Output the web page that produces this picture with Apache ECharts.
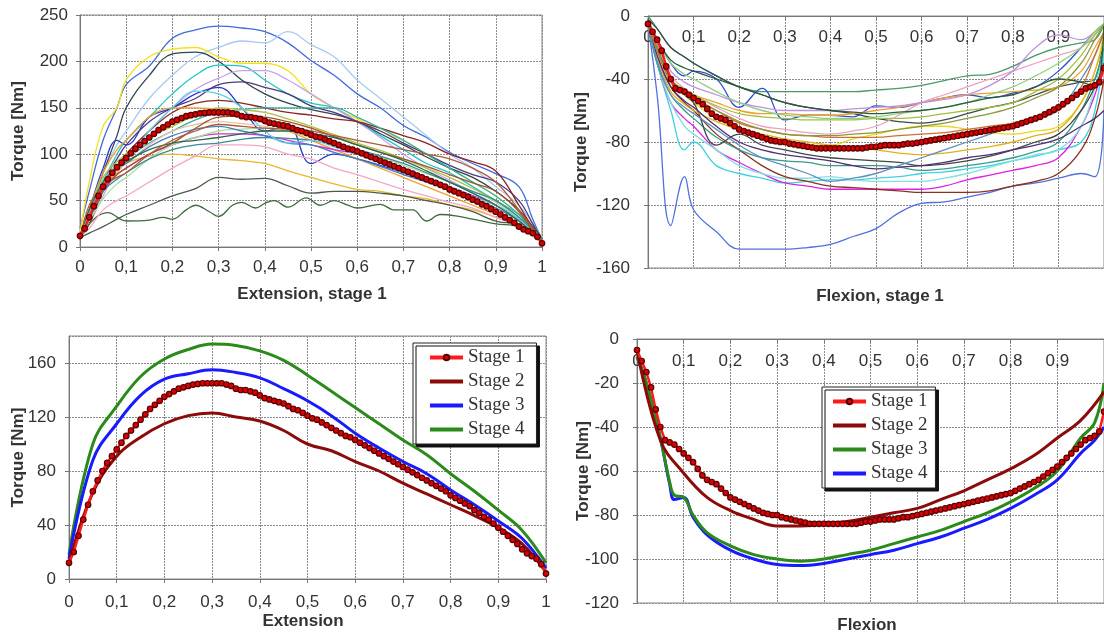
<!DOCTYPE html>
<html>
<head>
<meta charset="utf-8">
<script src="https://cdn.jsdelivr.net/npm/echarts@6.0.0/dist/echarts.min.js"></script>
<style>html,body{margin:0;padding:0;background:#fff}#chart{width:1104px;height:637px}</style>
</head>
<body>
<div id="chart"></div>
<script>
// shared x positions for the individual runs
const xsRun = [0, 0.02, 0.05, 0.08, 0.1, 0.15, 0.2, 0.25, 0.3, 0.35, 0.4, 0.45, 0.5, 0.55, 0.6, 0.65, 0.7, 0.75, 0.8, 0.85, 0.9, 0.95, 0.98, 1];
const xsWave = [0, 0.03, 0.06, 0.1, 0.15, 0.18, 0.2, 0.23, 0.25, 0.28, 0.3, 0.33, 0.35, 0.38, 0.4, 0.42, 0.45, 0.49, 0.52, 0.55, 0.58, 0.6, 0.65, 0.68, 0.72, 0.75, 0.78, 0.82, 0.85, 0.9, 0.95, 1];
const xsStage = [0, 0.05, 0.1, 0.15, 0.2, 0.25, 0.3, 0.35, 0.4, 0.45, 0.5, 0.55, 0.6, 0.65, 0.7, 0.75, 0.8, 0.85, 0.9, 0.95, 1];
const xsFlex = [0, 0.02, 0.05, 0.07, 0.08, 0.1, 0.12, 0.15, 0.2, 0.25, 0.3, 0.35, 0.4, 0.45, 0.5, 0.55, 0.6, 0.65, 0.7, 0.75, 0.8, 0.85, 0.9, 0.95, 0.98, 1];

// extension, stage 1 - individual runs
const ext01 = [20, 60, 115, 150, 175, 195, 225, 234, 238, 236, 232, 220, 201, 185, 165, 150, 131, 118, 102, 90, 79, 65, 30, 8];
const ext02 = [15, 40, 80, 110, 125, 160, 185, 205, 215, 222, 220, 232, 218, 205, 180, 160, 140, 120, 100, 85, 65, 45, 25, 10];
const ext03 = [15, 70, 130, 150, 180, 205, 213, 215, 205, 198, 198, 190, 165, 150, 138, 125, 115, 100, 85, 70, 55, 35, 20, 8];
const ext04 = [12, 40, 80, 120, 150, 185, 208, 210, 200, 180, 165, 155, 148, 143, 135, 122, 110, 97, 85, 75, 60, 40, 22, 8];
const ext05 = [10, 30, 70, 100, 115, 140, 165, 185, 196, 195, 180, 165, 155, 150, 135, 120, 105, 90, 80, 65, 50, 35, 20, 5];
const ext06 = [10, 25, 55, 85, 100, 125, 150, 170, 182, 190, 190, 180, 165, 150, 135, 118, 100, 85, 72, 58, 45, 30, 18, 5];
const ext07 = [10, 40, 85, 115, 110, 140, 150, 165, 172, 150, 125, 130, 90, 100, 95, 88, 80, 72, 65, 55, 45, 30, 18, 5];
const ext08 = [10, 35, 70, 95, 110, 135, 150, 160, 175, 178, 172, 165, 152, 145, 135, 125, 112, 100, 88, 78, 70, 50, 25, 8];
const ext09 = [8, 25, 60, 85, 100, 125, 145, 155, 158, 155, 150, 145, 142, 138, 135, 128, 120, 112, 100, 92, 82, 45, 20, 5];
const ext10 = [12, 40, 80, 105, 115, 140, 150, 150, 148, 140, 135, 125, 115, 105, 95, 85, 75, 65, 55, 45, 35, 25, 15, 5];
const ext11 = [10, 30, 60, 80, 90, 98, 100, 98, 95, 93, 90, 82, 75, 68, 62, 60, 55, 52, 45, 40, 32, 22, 12, 5];
const ext12 = [10, 15, 22, 30, 35, 45, 55, 63, 75, 73, 74, 66, 58, 60, 60, 58, 55, 50, 45, 38, 28, 25, 22, 8];
const ext13 = [10, 30, 37, 28, 29, 32, 30, 40, 45, 38, 33, 45, 48, 42, 47, 50, 43, 53, 45, 50, 45, 42, 46, 40, 40, 28, 35, 33, 30, 25, 22, 5];
const ext14 = [10, 20, 40, 50, 55, 70, 85, 98, 110, 110, 108, 100, 95, 85, 78, 70, 62, 55, 48, 42, 32, 22, 12, 5];
const ext15 = [10, 30, 60, 78, 85, 100, 110, 118, 122, 122, 120, 115, 110, 105, 100, 92, 85, 75, 65, 55, 45, 30, 15, 5];
const ext16 = [10, 28, 52, 68, 75, 95, 110, 118, 125, 127, 128, 125, 120, 112, 105, 97, 88, 79, 70, 60, 48, 30, 15, 5];
const ext17 = [10, 35, 70, 88, 95, 112, 125, 137, 145, 148, 150, 150, 150, 150, 140, 128, 115, 100, 85, 70, 55, 35, 18, 8];
const ext18 = [10, 35, 65, 82, 90, 110, 125, 132, 135, 133, 130, 125, 118, 110, 100, 91, 82, 74, 65, 54, 42, 28, 15, 5];
const ext19 = [10, 40, 75, 92, 100, 118, 130, 142, 150, 148, 145, 138, 130, 121, 112, 104, 95, 85, 75, 63, 50, 32, 18, 6];
const ext20 = [10, 30, 60, 73, 80, 95, 105, 110, 112, 116, 118, 117, 115, 110, 105, 98, 90, 80, 70, 60, 50, 32, 18, 6];
const ext21 = [10, 38, 70, 85, 90, 108, 120, 127, 130, 125, 120, 112, 110, 102, 95, 87, 78, 70, 62, 52, 42, 28, 15, 5];
const ext22 = [10, 32, 62, 78, 85, 100, 112, 128, 140, 141, 140, 135, 128, 119, 110, 102, 95, 87, 78, 69, 60, 38, 18, 6];
const ext23 = [10, 38, 72, 88, 95, 125, 150, 168, 165, 150, 125, 112, 115, 108, 100, 90, 80, 71, 62, 54, 45, 30, 16, 5];
const ext24 = [12, 40, 70, 85, 92, 105, 112, 115, 118, 122, 125, 125, 122, 118, 110, 102, 93, 82, 70, 58, 45, 28, 15, 5];
const ext25 = [8, 45, 65, 75, 80, 100, 115, 125, 132, 130, 128, 127, 125, 120, 115, 110, 105, 100, 95, 85, 70, 40, 20, 5];

// flexion, stage 1 - individual runs
const flx01 = [-5, -50, -133, -102, -123, -137, -148, -148, -148, -147, -145, -140, -135, -125, -119, -118, -115, -112, -108, -106, -103, -100, -102, -60];
const flx02 = [0, -8, -20, -26, -30, -38, -45, -48, -48, -48, -48, -48, -47, -46, -44, -41, -38, -37, -32, -25, -20, -17, -15, -5];
const flx03 = [-2, -8, -20, -26, -30, -38, -45, -50, -55, -58, -60, -62, -65, -67, -68, -66, -62, -58, -55, -50, -45, -42, -40, -5];
const flx04 = [-5, -15, -30, -38, -35, -40, -58, -46, -66, -63, -63, -64, -57, -58, -55, -52, -50, -52, -49, -45, -35, -20, -10, -5];
const flx05 = [-5, -20, -40, -50, -55, -65, -72, -77, -80, -82, -82, -78, -75, -72, -70, -70, -72, -74, -75, -73, -70, -55, -35, -10];
const flx06 = [-5, -22, -40, -47, -50, -55, -60, -62, -62, -63, -63, -62, -60, -58, -55, -52, -50, -49, -48, -47, -45, -35, -20, -10];
const flx07 = [-5, -30, -60, -85, -80, -95, -100, -103, -106, -105, -104, -104, -103, -102, -100, -99, -97, -95, -92, -89, -85, -80, -60, -20];
const flx08 = [-5, -30, -55, -65, -70, -85, -93, -100, -106, -108, -110, -110, -110, -110, -110, -108, -104, -101, -98, -95, -90, -70, -50, -30];
const flx09 = [-5, -30, -55, -70, -75, -85, -95, -100, -103, -103, -102, -104, -105, -105, -105, -103, -100, -96, -92, -88, -85, -70, -45, -20];
const flx10 = [-5, -25, -45, -55, -60, -75, -85, -95, -102, -105, -108, -109, -110, -111, -112, -112, -112, -111, -108, -105, -100, -85, -65, -40];
const flx11 = [-5, -30, -50, -60, -65, -77, -85, -90, -92, -93, -95, -95, -95, -96, -98, -97, -95, -93, -90, -86, -80, -60, -40, -20];
const flx12 = [-3, -20, -38, -46, -50, -58, -65, -70, -72, -74, -75, -73, -70, -63, -55, -50, -45, -40, -35, -30, -25, -20, -12, -5];
const flx13 = [-3, -18, -35, -42, -45, -50, -55, -58, -60, -60, -60, -59, -58, -57, -55, -53, -50, -44, -35, -20, -12, -15, -10, -5];
const flx14 = [-4, -20, -40, -47, -50, -57, -62, -64, -65, -66, -66, -66, -65, -65, -64, -62, -60, -58, -55, -48, -40, -25, -12, -5];
const flx15 = [-3, -20, -40, -50, -55, -82, -75, -82, -85, -88, -90, -91, -92, -93, -95, -94, -92, -89, -85, -80, -75, -60, -45, -30];
const flx16 = [-5, -25, -48, -56, -60, -67, -72, -75, -78, -80, -82, -84, -85, -87, -88, -87, -85, -83, -80, -76, -72, -55, -35, -15];
const flx17 = [-5, -25, -45, -54, -58, -70, -80, -85, -88, -90, -92, -95, -97, -96, -95, -93, -90, -88, -85, -82, -78, -70, -65, -60];
const flx18 = [-5, -28, -50, -58, -62, -72, -82, -90, -95, -100, -105, -103, -100, -95, -90, -85, -80, -75, -70, -65, -60, -40, -25, -10];
const flx19 = [-5, -22, -42, -49, -52, -60, -68, -72, -75, -76, -77, -77, -77, -76, -75, -74, -72, -70, -68, -64, -60, -45, -25, -10];
const flx20 = [-2, -15, -30, -37, -40, -48, -55, -60, -63, -64, -65, -65, -64, -62, -60, -58, -55, -50, -45, -38, -30, -20, -10, -5];
const flx21 = [-2, -15, -28, -33, -35, -40, -45, -50, -55, -58, -60, -61, -62, -61, -60, -58, -55, -52, -50, -45, -40, -42, -45, -5];
const flx22 = [-4, -20, -42, -50, -53, -60, -67, -72, -75, -76, -76, -75, -74, -72, -70, -68, -65, -62, -58, -52, -45, -30, -15, -5];

// mean of stage 1, sampled every 0.01
const ext1 = [12, 20, 32, 44, 55, 65, 73, 80, 86, 91, 96,
  101, 106, 110, 114, 118, 122, 126, 129, 132, 135,
  137, 139, 141, 142, 143, 144, 144.5, 145, 145, 145,
  145, 145, 144, 143, 141, 140, 140, 139, 138, 136,
  134, 133, 132, 131, 130, 128, 126, 125, 123, 121,
  119, 118, 116, 114, 112, 110, 108, 106, 105, 103,
  101, 99, 97, 95, 93, 91, 89, 87, 85, 83,
  81, 79, 77, 75, 73, 71, 69, 67, 65, 62,
  60, 58, 56, 54, 51, 49, 46, 44, 41, 38,
  35, 32, 29, 26, 22, 19, 17, 15, 11, 4];
const flex1 = [-5, -10, -15, -22, -32, -40, -46, -47, -48, -50, -52,
  -54, -56, -59, -62, -64, -65, -66, -68, -70, -72,
  -73, -74, -75, -76, -77, -78, -79, -79.5, -80, -80,
  -81, -81.5, -82, -82.5, -83, -83.5, -84, -84, -84, -84,
  -84, -84, -84, -84, -84, -84, -84, -83.5, -83, -83,
  -82.5, -82, -82, -82, -82, -81.5, -81, -81, -80.5, -80,
  -79.5, -79, -78.5, -78, -77.5, -77, -76.5, -76, -75.5, -75,
  -74.5, -74, -73.5, -73, -72.5, -72, -71.5, -71, -70.5, -70,
  -69, -68, -67, -66, -65, -64, -62.5, -61, -59.5, -58,
  -56, -54, -52, -50, -48, -46, -45, -44, -42, -33];

// stages 2-4
const ext2 = [12, 64, 91, 105, 115, 121, 123, 120, 117, 110, 100, 95, 87, 80, 71, 63, 55, 47, 38, 26, 5];
const ext3 = [15, 88, 115, 136, 148, 152, 155, 153, 149, 141, 132, 121, 108, 97, 87, 78, 66, 55, 43, 30, 8];
const ext4 = [18, 100, 128, 150, 163, 170, 174, 173, 169, 162, 151, 139, 127, 115, 103, 92, 78, 65, 51, 36, 12];
const flex2 = [-5, -46, -61, -72, -78, -82, -85, -85, -84, -83, -81, -79, -77, -73, -69, -64, -59, -53, -45, -37, -24];
const flex3 = [-8, -20, -45, -65, -71, -72, -80, -88, -94, -98, -100, -101, -100, -98, -96, -93, -90, -87, -83, -79, -74, -68, -60, -45, -38, -20];
const flex4 = [-8, -20, -45, -66, -73, -72, -81, -89, -96, -100, -102.5, -103, -102, -100, -98, -96, -93, -90, -86, -82, -77, -71, -64, -52, -46, -40];

const extRuns = [ext01, ext02, ext03, ext04, ext05, ext06, ext07, ext08, ext09, ext10, ext11, ext12, ext13,
  ext14, ext15, ext16, ext17, ext18, ext19, ext20, ext21, ext22, ext23, ext24, ext25];
const extColors = ['#4169e1', '#a9c9f2', '#f2e21c', '#34444f', '#22c4c4', '#c9a2ea', '#2a3ad0', '#4a3a80', '#8b2525',
  '#f0a030', '#e8b830', '#4a5a48', '#3e6a3e', '#f4a6c8', '#d828d8', '#a8e0a0', '#30b0a0', '#f0c0a0', '#b0c040',
  '#3a8a9a', '#4080c0', '#a0522d', '#60d0e8', '#2f6a4a', '#b05a3a'];
const flxRuns = [flx01, flx02, flx03, flx04, flx05, flx06, flx07, flx08, flx09, flx10, flx11,
  flx12, flx13, flx14, flx15, flx16, flx17, flx18, flx19, flx20, flx21, flx22];
const flxColors = ['#5070e0', '#4a9a6a', '#3a4a4a', '#3050d0', '#e8d820', '#f0a030', '#40d0e0', '#e020e0', '#80e0e0',
  '#8b3020', '#3a9a8a', '#f0a0c0', '#c090e0', '#a0c040', '#404848', '#e0b020', '#503070', '#6090c0', '#d07030',
  '#90d080', '#2a5a3a', '#8a9a3a'];

const RED = '#ff1a1a', DARKRED = '#8b0a0a', BLUE = '#1a1aff', GREEN = '#2a8a1a';
const gridColor = '#8a8a8a';

function pairs(xs, ys) {
    return ys.map((v, i) => [xs[i], v]);
}
function fmt(v) {
    return String(Math.round(v * 10) / 10).replace('.', ',');
}
let xs100 = ext1.map((v, i) => i / 100);

function runSeries(xs, ys, color, gi) {
    return {
        type: 'line', xAxisIndex: gi, yAxisIndex: gi, data: pairs(xs, ys),
        smooth: 0.4, symbol: 'none', silent: true, z: 2,
        lineStyle: { color: color, width: 1.3 }
    };
}
function meanSeries(name, ys, gi) {
    return {
        name: name, type: 'line', xAxisIndex: gi, yAxisIndex: gi, data: pairs(xs100, ys),
        symbol: 'circle', symbolSize: 5.5, showAllSymbol: true, z: 5,
        lineStyle: { color: RED, width: 2.5 },
        itemStyle: { color: '#d80000', borderColor: '#5a0000', borderWidth: 1.2 }
    };
}
function stageSeries(name, xs, ys, color, gi) {
    return {
        name: name, type: 'line', xAxisIndex: gi, yAxisIndex: gi, data: pairs(xs, ys),
        smooth: 0.4, symbol: 'none', z: 4,
        lineStyle: { color: color, width: 3 }, itemStyle: { color: color }
    };
}

function xAx(gi, margin, top) {
    return {
        gridIndex: gi, type: 'value', min: 0, max: 1, interval: 0.1,
        position: top ? 'top' : 'bottom',
        axisLine: { onZero: false, lineStyle: { color: '#777' } },
        axisTick: { show: true, inside: !!top, length: 4, lineStyle: { color: '#777' } },
        axisLabel: { inside: !!top, showMaxLabel: !top, margin: margin, fontSize: 17, color: '#333', fontFamily: 'Liberation Sans', formatter: fmt },
        splitLine: { show: true, lineStyle: { color: gridColor, type: [2, 1] } }
    };
}
function yAx(gi, min, max, interval, gap, margin) {
    return {
        gridIndex: gi, type: 'value', min: min, max: max, interval: interval,
        name: 'Torque [Nm]', nameLocation: 'middle', nameGap: gap, nameMoveOverlap: false,
        nameTextStyle: { fontWeight: 'bold', fontSize: 17, color: '#333', fontFamily: 'Liberation Sans' },
        axisLine: { show: true, lineStyle: { color: '#777' } },
        axisTick: { show: true, length: 4, lineStyle: { color: '#777' } },
        axisLabel: { margin: margin, fontSize: 17, color: '#333', fontFamily: 'Liberation Sans', showMaxLabel: max === 0 || max % interval === 0 },
        splitLine: { show: true, lineStyle: { color: gridColor, type: [2, 1] } }
    };
}

let series = [];
extRuns.forEach((ys, i) => series.push(runSeries(i === 12 ? xsWave : xsRun, ys, extColors[i], 0)));
flxRuns.forEach((ys, i) => series.push(runSeries(xsRun, ys, flxColors[i], 1)));
series.push(meanSeries('Mean ext', ext1, 0));
series.push(meanSeries('Mean flex', flex1, 1));
// bottom-left: extension stages
series.push(stageSeries('Stage 4', xsStage, ext4, GREEN, 2));
series.push(stageSeries('Stage 3', xsStage, ext3, BLUE, 2));
series.push(stageSeries('Stage 2', xsStage, ext2, DARKRED, 2));
series.push(meanSeries('Stage 1', ext1, 2));
// bottom-right: flexion stages (names carry a trailing space to keep own legend colours)
series.push(stageSeries('Stage 4 ', xsFlex, flex4, BLUE, 3));
series.push(stageSeries('Stage 3 ', xsFlex, flex3, GREEN, 3));
series.push(stageSeries('Stage 2 ', xsStage, flex2, DARKRED, 3));
series.push(meanSeries('Stage 1 ', flex1, 3));

function legendBox(names, left, top, pad) {
    let items = names.map((n, i) => i === 0 ? { name: n } : { name: n, itemStyle: { opacity: 0 } });
    return {
        data: items, orient: 'vertical', left: left, top: top, padding: pad,
        itemWidth: 33, itemHeight: 7, itemGap: 5,
        lineStyle: { width: 4 },
        backgroundColor: '#fff', borderColor: '#222', borderWidth: 1,
        shadowColor: '#111', shadowBlur: 0, shadowOffsetX: 3, shadowOffsetY: 3,
        formatter: n => n.trim(),
        textStyle: { fontFamily: 'Liberation Serif', fontSize: 19, color: '#333', lineHeight: 19 },
        selectedMode: false
    };
}

const nameFont = 'bold 17px "Liberation Sans"';
function axisName(text, x, y) {
    return { type: 'text', x: x, y: y, style: { text: text, font: nameFont, fill: '#333', textAlign: 'center', textVerticalAlign: 'middle', verticalAlign: 'middle' } };
}

let option = {
    animation: false,
    backgroundColor: '#fff',
    grid: [
        { left: 80, right: 562, top: 15, bottom: 390, show: true, borderColor: gridColor },
        { left: 648, right: -1, top: 16, bottom: 369, show: true, borderColor: gridColor },
        { left: 69, right: 558, top: 336, bottom: 58, show: true, borderColor: gridColor },
        { left: 637, right: -4, top: 339, bottom: 34, show: true, borderColor: gridColor }
    ],
    xAxis: [xAx(0, 12, false), xAx(1, 13, true), xAx(2, 15, false), xAx(3, 14, true)],
    yAxis: [
        yAx(0, 0, 250, 50, 53, 12),
        yAx(1, -160, 0, 40, 58, 18),
        yAx(2, 0, 180, 40, 42, 13),
        yAx(3, -120, 0, 20, 45, 18)
    ],
    legend: [
        legendBox(['Stage 1', 'Stage 2', 'Stage 3', 'Stage 4'], 413, 343, [5, 12, 5, 15]),
        legendBox(['Stage 1 ', 'Stage 2 ', 'Stage 3 ', 'Stage 4 '], 822, 387, [5, 8, 5, 9])
    ],
    graphic: [
        axisName('Extension, stage 1', 312, 294),
        axisName('Flexion, stage 1', 880, 296),
        axisName('Extension', 303, 621),
        axisName('Flexion', 867, 625)
    ],
    series: series
};

let chart = echarts.init(document.getElementById('chart'));
chart.setOption(option);
</script>
</body>
</html>
